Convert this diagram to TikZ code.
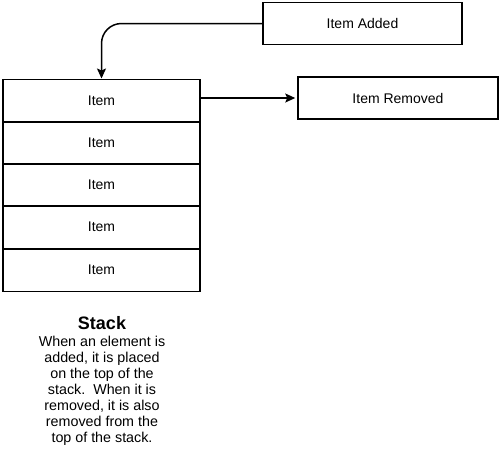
\documentclass[tikz,border=0pt]{standalone}
\usepackage{fontspec}
\setmainfont{Liberation Sans}
\usetikzlibrary{arrows.meta}
\begin{document}
\begin{tikzpicture}[x=1pt,y=-1pt,
  box/.style={draw,line width=1.5pt,minimum width=199pt,minimum height=42pt,inner sep=0pt,font=\fontsize{14}{16}\selectfont},
  cell/.style={draw,line width=1.5pt,minimum width=197pt,minimum height=42.5pt,inner sep=0pt,font=\fontsize{14}{16}\selectfont},
  conn/.style={line width=1.5pt,-{Stealth[length=10pt,width=9pt,inset=2pt]}}]
\useasboundingbox (0,0) rectangle (500,461);
\node[box] (added) at (362.5,23.5) {Item Added};
\node[box,minimum width=200pt] (removed) at (398,98) {Item Removed};
\node[cell] (s1) at (101.5,100.5) {Item};
\node[cell] (s2) at (101.5,143) {Item};
\node[cell] (s3) at (101.5,185) {Item};
\node[cell] (s4) at (101.5,227) {Item};
\node[cell] (s5) at (101.5,270) {Item};
\node[font=\bfseries\fontsize{18}{20}\selectfont,inner sep=0pt] (title) at (102,323) {Stack};
\node[align=center,font=\fontsize{14.3}{16}\selectfont,inner sep=0pt,anchor=north] (desc) at (102,336)
  {When an element is\\added, it is placed\\on the top of the\\stack.\ \ When it is\\removed, it is also\\removed from the\\top of the stack.};
\draw[conn,rounded corners=20pt] (added.west) -| (s1.north);
\draw[conn,shorten >=2pt] (s1.east |- removed.west) -- (removed.west);
\end{tikzpicture}
\end{document}
